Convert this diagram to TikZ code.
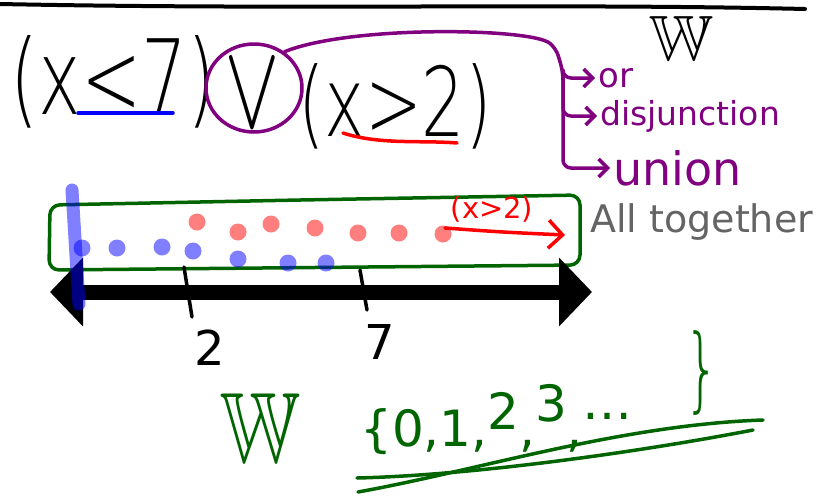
\documentclass[tikz,border=0pt]{standalone}
\usepackage{fontspec}
\setmainfont{DejaVu Sans}
\newfontfamily\thinink{DejaVuSans-ExtraLight.ttf}
\newfontfamily\mathink{Latin Modern Math}
\usepackage{amssymb}
\usepackage{graphicx}
\usetikzlibrary{shapes.geometric, arrows.meta, positioning, calc}
\definecolor{inkpurple}{RGB}{128,0,128}
\definecolor{inkgreen}{RGB}{0,100,0}
\definecolor{inkgray}{RGB}{100,100,100}
\newcommand{\inksize}[1]{\fontsize{#1}{#1}\selectfont}
\tikzset{
  ink/.style={line width=3.5pt, line cap=round, line join=round},
  bigtext/.style={inner sep=0pt, font=\thinink\inksize{80}},
  purptext/.style={inner sep=0pt, text=inkpurple, anchor=west},
  purparr/.style={ink, draw=inkpurple, rounded corners=8pt, shorten >=3pt, -{Straight Barb[length=9pt, width=18pt]}},
  bluedot/.style={fill=blue, fill opacity=0.5},
  reddot/.style={fill=red, fill opacity=0.5},
  ticklab/.style={inner sep=0pt, font=\inksize{48}},
  greentext/.style={inner sep=0pt, text=inkgreen},
  numline/.style={line width=15pt, {Triangle[length=33pt, width=67pt]}-{Triangle[length=33pt, width=67pt]}},
}

\begin{document}
\begin{tikzpicture}[x=1pt, y=-1pt]
  \useasboundingbox (0,0) rectangle (822,496);
  % top rule
  \draw[ink, line width=4pt] (0,4) .. controls (300,10) and (550,3) .. (805,9);

  % the statement
  \node[bigtext] (lhs) at (113,82) {\scalebox{0.9}[1.3]{(x<7)}};
  \node[inner sep=0pt, font=\mathink\inksize{96}] (vee) at (252,92) {\scalebox{0.9}[1.25]{∨}};
  \node[bigtext] (rhs) at (395,106) {\scalebox{0.85}[1.2]{(x>2)}};
  \draw[ink, blue] (78,113) -- (173,113);
  \draw[ink, red] (343,133) .. controls (380,145) and (420,140) .. (457,143);
  \node[ellipse, draw=inkpurple, line width=3.5pt, minimum width=96pt, minimum height=88pt] (orcirc) at (254,88) {};

  % names for it
  \node[purptext, font=\inksize{34}] (ortxt) at (598,78) {or};
  \node[purptext, font=\inksize{33}] (disj) at (600,116) {disjunction};
  \node[purptext, font=\inksize{46}] (uni) at (613,168) {union};
  \coordinate (bend) at (563,72);
  \draw[purparr] (orcirc.50) .. controls (350,25) and (530,28) .. (556,48) -- (bend) |- (ortxt.west);
  \draw[purparr] (bend) |- (disj.west);
  \draw[purparr] (bend) |- (uni.west);
  \node[inner sep=0pt, font=\inksize{64}] (wtop) at (681,38) {$\mathbb{W}$};

  % the set on the line
  \draw[ink, draw=inkgreen, rounded corners=10pt] (300,200) -- (50,205) -- (49,270) -- (580,265) -- (580,195) -- cycle;
  \foreach \x/\y in {82/248, 117/248, 162/247, 193/251, 238/259, 288/263, 326/263}
    \fill[bluedot] (\x,\y) circle[radius=8.5pt];
  \foreach \x/\y in {197/222, 238/232, 271/224, 315/228, 358/233, 399/233, 443/234}
    \fill[reddot] (\x,\y) circle[radius=8.5pt];
  \coordinate (gtfrom) at (445,228);
  \coordinate (gtto) at (565,235);
  \node[inner sep=0pt, text=red, font=\inksize{29}] (gtlab) at (492,209) {(x>2)};
  \draw[ink, red, -{Straight Barb[length=14pt, width=28pt]}] (gtfrom) .. controls (500,232) .. (gtto);
  \node[inner sep=0pt, text=inkgray, anchor=west, font=\inksize{38}] (allt) at (590,222) {All together};

  % number line
  \coordinate (nlL) at (50,292);
  \coordinate (nlR) at (592,292);
  \draw[numline] (nlL) -- (nlR);
  \node[ticklab] (two) at (210,348) {2};
  \node[ticklab] (seven) at (380,342) {7};
  \draw[ink] (184,267) -- (192,317);
  \draw[ink] (360,270) -- (367,310);
  \draw[line width=13pt, blue, draw opacity=0.5, line cap=round] (72,190) -- (79,304);

  % whole numbers
  \node[greentext, font=\inksize{100}] (wbot) at (260,428) {\scalebox{0.8}[1]{$\mathbb{W}$}};
  \node[greentext, anchor=west, font=\inksize{50}] (wset) at (360,420) {\{0,1,\raisebox{.35em}{2},\raisebox{.5em}{3},\raisebox{.55em}{\ldots}};
  \node[greentext, font=\thinink\inksize{92}] (wclose) at (702,373) {\scalebox{0.6}[1]{\}}};
  \draw[ink, inkgreen] (358,492) .. controls (480,470) and (620,425) .. (763,420);
  \draw[ink, inkgreen] (357,478) .. controls (480,475) and (650,450) .. (753,430);
\end{tikzpicture}
\end{document}
